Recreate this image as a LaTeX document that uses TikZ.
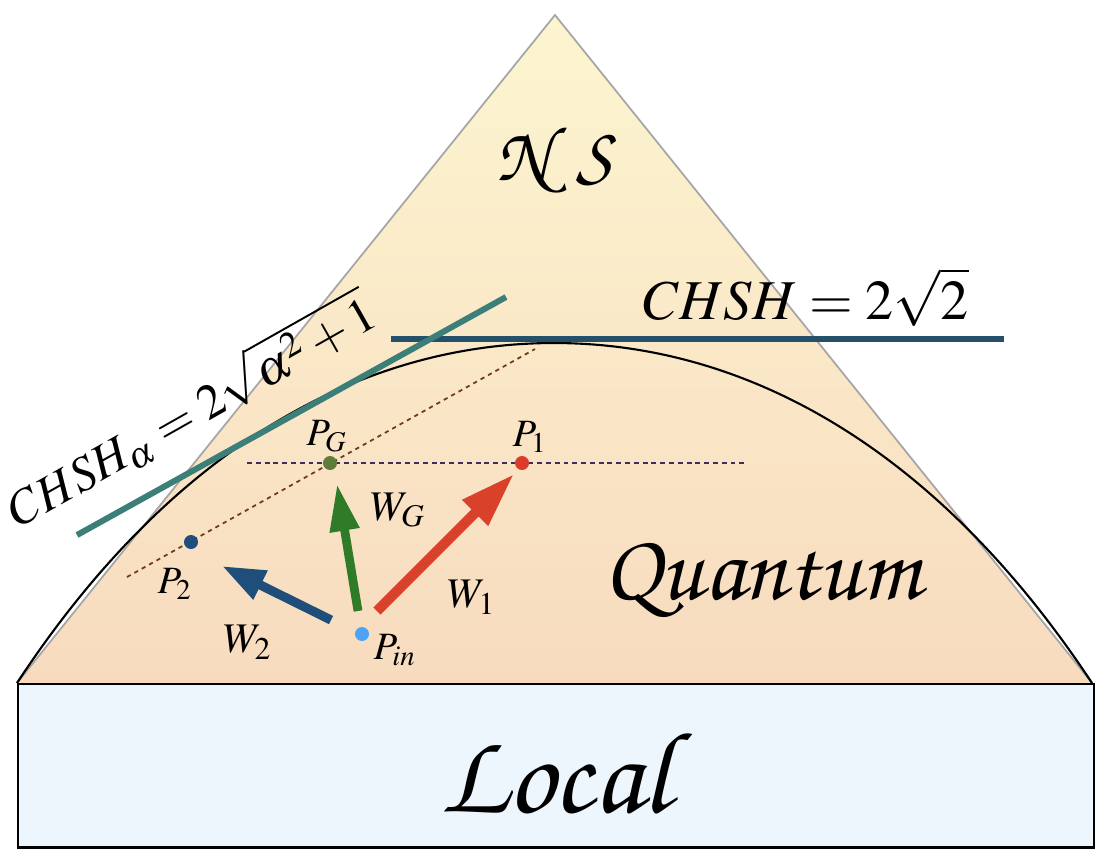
\documentclass[tikz,border=0pt]{standalone}
\usepackage{mathptmx}
\usetikzlibrary{arrows.meta}
\definecolor{triTop}{HTML}{FCF5D0}
\definecolor{triBot}{HTML}{F8DBBF}
\definecolor{localFill}{HTML}{EDF5FD}
\definecolor{chshLine}{HTML}{25506A}
\definecolor{alphaLine}{HTML}{3C7E78}
\definecolor{brownDash}{HTML}{6E3B16}
\definecolor{purpleDash}{HTML}{3E2C5E}
\definecolor{dotG}{HTML}{5E7D3B}
\definecolor{dotR}{HTML}{DC3B2B}
\definecolor{dotB}{HTML}{1F4D7C}
\definecolor{dotIn}{HTML}{4DA3F5}
\definecolor{arrG}{HTML}{2F7B27}
\definecolor{arrR}{HTML}{DA412B}
\definecolor{arrB}{HTML}{1F4E7B}
\newcommand{\chanc}{\usefont{OT1}{pzc}{mb}{it}}
\tikzset{
  pdot/.style={circle, inner sep=0pt, minimum size=0.14cm, fill=#1},
  bound/.style={line width=1.7pt, line cap=butt},
  lbl/.style={inner sep=0pt, font=\fontsize{11}{13}\selectfont},
  blockarrow/.style={line width=#1, line cap=butt},
}
\begin{document}
\begin{tikzpicture}[x=0.01cm, y=-0.01cm]
\useasboundingbox (0,0) rectangle (1106,859);
% triangle
\coordinate (apex) at (555,15);
\coordinate (bl) at (17,683);
\coordinate (br) at (1092,683);
\shade[top color=triTop, bottom color=triBot] (bl) -- (apex) -- (br) -- cycle;
\draw[black!35, line width=0.5pt, line join=miter] (bl) -- (apex) -- (br);
% local box
\node[draw=black, line width=0.7pt, fill=localFill, minimum width=10.75cm, minimum height=1.63cm, inner sep=0pt, anchor=north west] (local) at (17,683) {};
\node at (555,772) {\fontsize{33}{38}\chanc Local};
% quantum boundary
\coordinate (qtop) at (554,343);
\draw[black, line width=0.6pt] (bl) .. controls (170,450) and (360,343) .. (qtop)
  .. controls (748,343) and (938,450) .. (br);
% dashed guides
\coordinate (bdA) at (127,577);
\coordinate (bdB) at (535,349);
\draw[brownDash, line width=0.5pt, dash pattern=on 1.2pt off 1.2pt] (bdA) -- (bdB);
\coordinate (pdA) at (247,463);
\coordinate (pdB) at (746,463);
\draw[purpleDash, line width=0.5pt, dash pattern=on 1.4pt off 1.1pt] (pdA) -- (pdB);
% bounds
\coordinate (chA) at (391,339);
\coordinate (chB) at (1004,339);
\draw[bound, chshLine] (chA) -- (chB);
\coordinate (alA) at (77,535);
\coordinate (alB) at (506,297);
\draw[bound, alphaLine] (alA) -- (alB);
% labels of bounds
\node (chshlbl) at (806,297) {\fontsize{16}{19}\selectfont $CHSH = 2\sqrt{2}$};
\node[rotate=29.5] (alphalbl) at (190,410) {\fontsize{14}{17}\selectfont $CHSH_{\alpha} = 2\sqrt{\alpha^{2}+1}$};
\node (ns) at (554,160) {\fontsize{22}{24}\chanc N\,\,S};
\node (quantum) at (762,578) {\fontsize{27}{31}\chanc Quantum};
% points
\node[pdot=dotG] (PG) at (330,463) {};
\node[pdot=dotR] (P1) at (522,463) {};
\node[pdot=dotB] (P2) at (191,542) {};
\node[pdot=dotIn] (Pin) at (362,634) {};
\node[lbl] at (327,436) {$P_{G}$};
\node[lbl] at (530,437) {$P_{1}$};
\node[lbl] at (175,584) {$P_{2}$};
\node[lbl] at (395,650) {$P_{in}$};
\node[lbl, font=\fontsize{12}{14}\selectfont] at (398,510) {$W_{G}$};
\node[lbl, font=\fontsize{12}{14}\selectfont] at (472,597) {$W_{1}$};
\node[lbl, font=\fontsize{12}{14}\selectfont] at (248,642) {$W_{2}$};
% arrows
\coordinate (gT) at (358,611);
\coordinate (gH) at (337,484);
\coordinate (rT) at (377,611);
\coordinate (rH) at (514,474);
\coordinate (bT) at (331,620);
\coordinate (bH) at (222,566);
\draw[blockarrow=2.5pt, arrG, -{Triangle[length=0.47cm, width=0.28cm]}] (gT) -- (gH);
\draw[blockarrow=2.9pt, arrR, -{Triangle[length=0.55cm, width=0.34cm]}] (rT) -- (rH);
\draw[blockarrow=2.6pt, arrB, -{Triangle[length=0.43cm, width=0.30cm]}] (bT) -- (bH);
\end{tikzpicture}
\end{document}
